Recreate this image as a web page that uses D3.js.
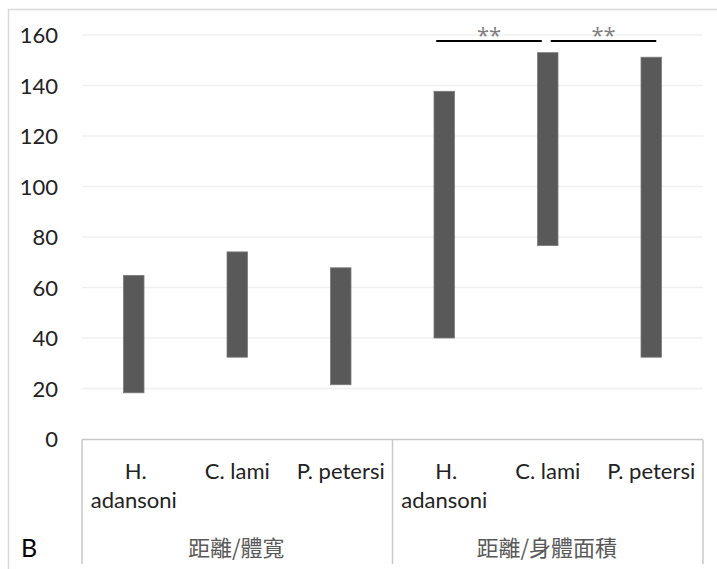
<!DOCTYPE html>
<html><head><meta charset="utf-8">
<script src="https://cdn.jsdelivr.net/npm/d3@7/dist/d3.min.js"></script>
<style>html,body{margin:0;padding:0;background:#fff;} svg{display:block;}</style>
</head><body>
<svg id="c" width="717" height="569"></svg>
<script>
const groups = ["距離/體寬", "距離/身體面積"];
const species = [["H.", "adansoni"], ["C. lami"], ["P. petersi"]];
const lowValues = [18.3, 32.4, 21.5, 40.0, 76.6, 32.4];
const highValues = [64.8, 74.1, 67.8, 137.7, 153.0, 151.2];
const yTicks = [0, 20, 40, 60, 80, 100, 120, 140, 160];
const sigPairs = [[3, 4, "**"], [4, 5, "**"]];
const panelLabel = "B";

const svg = d3.select("#c");
const L = 82, R = 703, T = 35, B = 439;
const latin = "Lato, 'Open Sans', sans-serif";
const cjk = "'Noto Sans CJK TC', 'Noto Sans CJK SC', sans-serif";

// outer frame
svg.append("path").attr("d", "M8.5,569 L8.5,9.5 L717,9.5").attr("fill", "none").attr("stroke", "#d9d9d9").attr("stroke-width", 1.5);

const y = d3.scaleLinear().domain([0, 160]).range([B, T]);
const cats = d3.range(6);
const x = d3.scaleBand().domain(cats).range([L, R]).padding(0);
const barW = x.bandwidth() * 0.198;

// gridlines
svg.append("g").selectAll("line").data(yTicks.filter(d => d > 0)).join("line")
  .attr("x1", L).attr("x2", R).attr("y1", d => y(d)).attr("y2", d => y(d))
  .attr("stroke", "#f0f0f0").attr("stroke-width", 1.5);

// y axis labels
const yAxis = d3.axisLeft(y).tickValues(yTicks).tickSize(0).tickPadding(0);
const ya = svg.append("g").attr("transform", `translate(58,0)`).call(yAxis);
ya.select(".domain").remove();
ya.selectAll("text").attr("font-family", latin).attr("font-size", 22).attr("fill", "#222").attr("dy", "0.36em");

// bars
svg.append("g").selectAll("rect").data(cats).join("rect")
  .attr("x", i => x(i) + x.bandwidth() / 2 - barW / 2)
  .attr("width", barW)
  .attr("y", i => y(highValues[i]))
  .attr("height", i => y(lowValues[i]) - y(highValues[i]))
  .attr("fill", "#595959").attr("stroke", "#7a7a7a").attr("stroke-width", 0.8);

// category axis box
const axisG = svg.append("g").attr("fill", "none").attr("stroke", "#c8c8c8").attr("stroke-width", 1.5);
axisG.append("line").attr("x1", L).attr("x2", R).attr("y1", B + 0.5).attr("y2", B + 0.5);
[0, 3, 6].forEach(k => {
  const xx = k === 6 ? R : x(k);
  axisG.append("line").attr("x1", xx).attr("x2", xx).attr("y1", B + 0.5).attr("y2", 564);
});

// species labels
cats.forEach(i => {
  const lines = species[i % 3];
  const t = svg.append("text").attr("font-family", latin).attr("font-size", 22).attr("fill", "#222")
    .attr("text-anchor", "middle");
  lines.forEach((ln, j) => {
    t.append("tspan").attr("x", x(i) + x.bandwidth() / 2 + (lines.length > 1 && j === 0 ? 2 : 0))
      .attr("y", 479 + j * 29).text(ln);
  });
});

// group labels
groups.forEach((g, k) => {
  const x0 = x(k * 3), x1 = k === 1 ? R : x(3);
  svg.append("text").attr("x", (x0 + x1) / 2 - 1).attr("y", 556)
    .attr("font-family", cjk).attr("font-size", 22).attr("fill", "#595959")
    .attr("text-anchor", "middle").text(g);
});

// significance
const sigY = y(157.6);
const offs = [[-8, -6], [3, 5]];
sigPairs.forEach((p, k) => {
  const xa = x(p[0]) + x.bandwidth() / 2 + offs[k][0];
  const xb = x(p[1]) + x.bandwidth() / 2 + offs[k][1];
  svg.append("line").attr("x1", xa).attr("x2", xb).attr("y1", sigY).attr("y2", sigY)
    .attr("stroke", "#000").attr("stroke-width", 2);
  svg.append("text").attr("x", (xa + xb) / 2).attr("y", 42.5).attr("text-anchor", "middle")
    .attr("font-family", "'Open Sans', sans-serif").attr("font-size", 22).attr("fill", "#7f7f7f").text(p[2]);
});

// panel label
svg.append("text").attr("x", 21).attr("y", 557).attr("font-family", latin).attr("font-size", 25)
  .attr("fill", "#000").text(panelLabel);
</script>
</body></html>
